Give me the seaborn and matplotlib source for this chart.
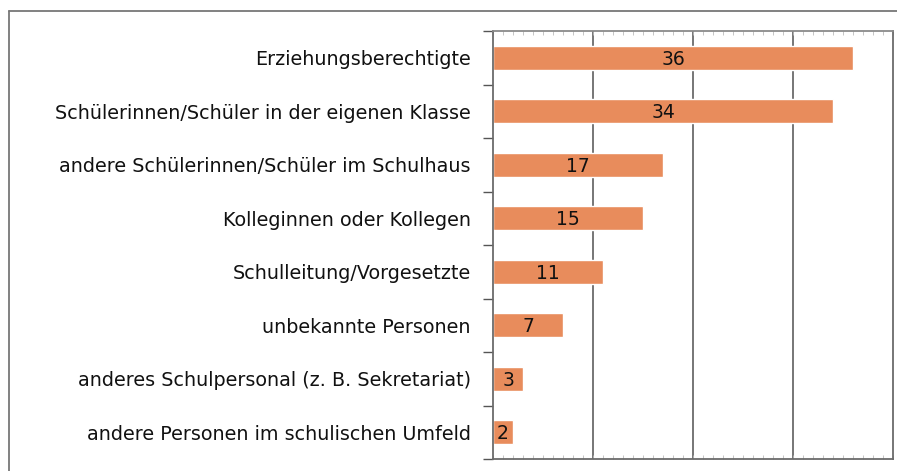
import numpy as np
import pandas as pd
import matplotlib.pyplot as plt
import seaborn as sns
from matplotlib.lines import Line2D
from matplotlib.ticker import MultipleLocator, FixedLocator

# Daten
gruppen = [
    'Erziehungsberechtigte',
    'Schülerinnen/Schüler in der eigenen Klasse',
    'andere Schülerinnen/Schüler im Schulhaus',
    'Kolleginnen oder Kollegen',
    'Schulleitung/Vorgesetzte',
    'unbekannte Personen',
    'anderes Schulpersonal (z. B. Sekretariat)',
    'andere Personen im schulischen Umfeld',
]
werte = [36, 34, 17, 15, 11, 7, 3, 2]

df = pd.DataFrame({'Gruppe': gruppen, 'Wert': werte})

sns.set_style('white')
plt.rcParams['font.family'] = ['DejaVu Sans']

fig = plt.figure(figsize=(8.97, 4.71), dpi=100)
ax = fig.add_axes([493 / 897, 1 - 459 / 471, 400 / 897, 428 / 471])

sns.barplot(data=df, x='Wert', y='Gruppe', color='#E88C5C', saturation=1,
            width=0.44, ax=ax)

# Werte in den Balken
for i, v in enumerate(werte):
    ax.text(v / 2, i + 0.03, str(v), ha='center', va='center', fontsize=13.5,
            color='#111111')

ax.set_xlim(0, 40)
ax.set_ylim(len(gruppen) - 0.5, -0.5)
ax.set_xlabel('')
ax.set_ylabel('')

# Gitterlinien
for gx in [10, 20, 30]:
    ax.axvline(gx, color='#6b6b6b', lw=1.3, zorder=0)

for s in ax.spines.values():
    s.set_color('#6b6b6b')
    s.set_linewidth(1.3)
ax.spines['top'].set_color('#8a8a8a')

ax.xaxis.set_major_locator(FixedLocator([]))
ax.xaxis.set_minor_locator(MultipleLocator(1))
ax.tick_params(axis='x', which='minor', direction='in', length=3, width=0.6,
               color='#bbbbbb', top=True, bottom=True)
ax.tick_params(axis='y', which='major', length=0, pad=16, labelsize=13.8,
               labelcolor='#111111')
ax.yaxis.set_minor_locator(FixedLocator(np.arange(-0.5, len(gruppen), 1)))
ax.tick_params(axis='y', which='minor', direction='out', length=7, width=1,
               color='#555555', left=True)

# Rahmen um die Grafik
fig.add_artist(Line2D([9 / 897, 9 / 897], [0, 1 - 11 / 471],
                      transform=fig.transFigure, color='#777777', lw=1.3))
fig.add_artist(Line2D([9 / 897, 1], [1 - 11 / 471, 1 - 11 / 471],
                      transform=fig.transFigure, color='#777777', lw=1.3))

fig.savefig('out.png', dpi=100)
